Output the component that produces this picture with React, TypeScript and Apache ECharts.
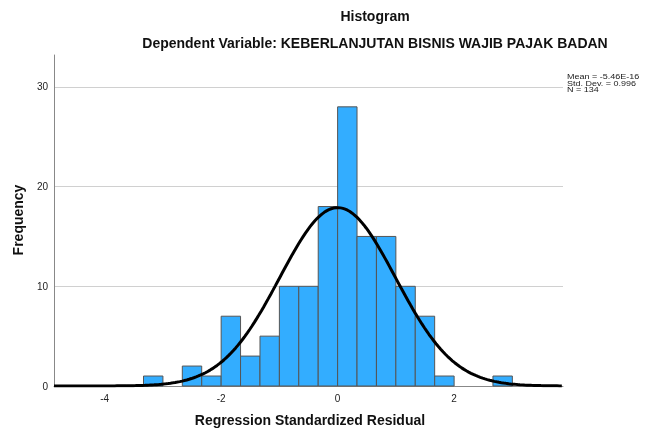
import React, { useEffect, useRef } from "react";
import * as echarts from "echarts";

const binStarts = [-3.333, -3.0, -2.667, -2.333, -2.0, -1.667, -1.333, -1.0, -0.667, -0.333, 0.0, 0.333, 0.667, 1.0, 1.333, 1.667, 2.0, 2.333, 2.667];
const frequencies = [1, 0, 2, 1, 7, 3, 5, 10, 10, 18, 28, 15, 15, 10, 7, 1, 0, 0, 1];
const binWidth = 0.3333;
const xTickLabels = [-4, -2, 0, 2];
const meanValue = -5.46e-16;
const stdDev = 0.996;
const nCount = 134;
const statLines = ["Mean = -5.46E-16", "Std. Dev. = 0.996", "N = 134"];
const xMin = -4.87;
const xMax = 3.87;

const FONT = "'Liberation Sans', Arial, sans-serif";

export default function App() {
  const ref = useRef<HTMLDivElement>(null);
  useEffect(() => {
    if (!ref.current) return;
    const chart = echarts.init(ref.current, undefined, { renderer: "svg" });
    const barData = binStarts.map((s, i) => [s, s + binWidth, frequencies[i]]).filter((d) => d[2] > 0);
    const curve: number[][] = [];
    for (let x = xMin; x <= xMax + 1e-9; x += 0.04) {
      const z = (x - meanValue) / stdDev;
      const y = (nCount * binWidth) / (stdDev * Math.sqrt(2 * Math.PI)) * Math.exp(-0.5 * z * z);
      curve.push([x, y]);
    }
    chart.setOption({
      animation: false,
      grid: { left: 54, right: 82, top: 55, bottom: 46 },
      xAxis: {
        type: "value",
        min: xMin,
        max: xMax,
        axisLine: { show: true, onZero: false, lineStyle: { color: "#888", width: 1 } },
        axisTick: { show: false },
        splitLine: { show: false },
        axisLabel: {
          customValues: xTickLabels,
          fontSize: 10,
          color: "#222",
          fontFamily: FONT,
          margin: 7,
        },
      },
      yAxis: {
        type: "value",
        min: 0,
        max: 33.2,
        interval: 10,
        axisLine: { show: true, onZero: false, lineStyle: { color: "#888", width: 1 } },
        axisTick: { show: false },
        splitLine: { show: true, showMaxLine: false, lineStyle: { color: "#d0d0d0", width: 1.2 } },
        axisLabel: {
          fontSize: 10,
          color: "#222",
          fontFamily: FONT,
          margin: 6,
          showMaxLabel: false,
        },
      },
      series: [
        {
          type: "custom",
          data: barData,
          encode: { x: [0, 1], y: 2 },
          renderItem: (params: any, api: any) => {
            const p0 = api.coord([api.value(0), api.value(2)]);
            const p1 = api.coord([api.value(1), 0]);
            return {
              type: "rect",
              shape: { x: p0[0], y: p0[1], width: p1[0] - p0[0], height: p1[1] - p0[1] },
              style: { fill: "#33adff", stroke: "#555555", lineWidth: 1 },
            };
          },
          z: 2,
        },
        {
          type: "line",
          data: curve,
          showSymbol: false,
          smooth: false,
          lineStyle: { color: "#000", width: 3 },
          z: 3,
        },
      ],
      graphic: [
        {
          type: "text",
          x: 375,
          y: 16,
          style: { text: "Histogram", font: `bold 14px ${FONT}`, fill: "#111", align: "center", verticalAlign: "middle" },
        },
        {
          type: "text",
          x: 375,
          y: 43,
          style: { text: "Dependent Variable: KEBERLANJUTAN BISNIS WAJIB PAJAK BADAN", font: `bold 14px ${FONT}`, fill: "#111", align: "center", verticalAlign: "middle" },
        },
        {
          type: "text",
          x: 18,
          y: 220,
          rotation: Math.PI / 2,
          style: { text: "Frequency", font: `bold 14px ${FONT}`, fill: "#111", align: "center", verticalAlign: "middle" },
        },
        {
          type: "text",
          x: 310,
          y: 420,
          style: { text: "Regression Standardized Residual", font: `bold 14px ${FONT}`, fill: "#111", align: "center", verticalAlign: "middle" },
        },
        ...statLines.map((t, i) => ({
          type: "text",
          x: 567,
          y: 77 + i * 6.6,
          scaleY: 0.78,
          style: { text: t, font: `9px ${FONT}`, fill: "#1a1a1a", align: "left", verticalAlign: "middle" },
        })),
      ],
    });
    return () => chart.dispose();
  }, []);
  return (
    <div
      ref={ref}
      style={{ position: "fixed", left: 0, top: 0, width: 645, height: 432 }}
    />
  );
}
